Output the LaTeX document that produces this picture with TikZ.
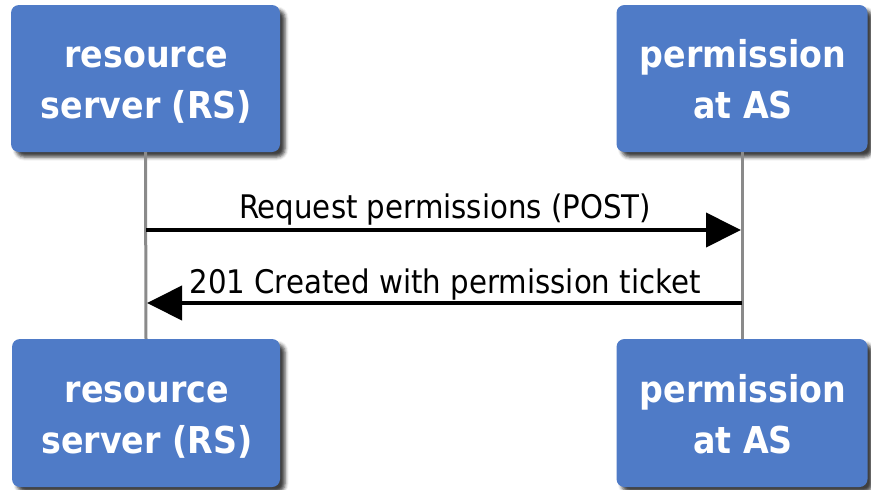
\documentclass[tikz,border=0pt]{standalone}
\usepackage{fontspec}
\setmainfont{DejaVu Sans Condensed}
\usetikzlibrary{shadows.blur,arrows.meta}
\definecolor{boxblue}{RGB}{79,123,199}
\definecolor{lifegray}{RGB}{138,138,138}
\begin{document}
\begin{tikzpicture}[x=1pt,y=-1pt,
  actor/.style={fill=boxblue, rounded corners=8pt, inner sep=0pt,
    blur shadow={shadow xshift=5pt, shadow yshift=-5pt,
      shadow blur radius=3.5pt, shadow opacity=75}},
  actortext/.style={text=white, align=center,
    font=\fontsize{37}{51}\selectfont\bfseries},
  life/.style={draw=lifegray, line width=3pt},
  msg/.style={draw=black, line width=4pt,
    -{Triangle[length=35pt, width=34pt]}},
  msglabel/.style={font=\fontsize{32.5}{38}\selectfont, anchor=base}]
\useasboundingbox (0,0) rectangle (871,490);

% participant boxes, top row and bottom row
\node[actor, minimum width=269pt, minimum height=147pt] (rsTop) at (145.5,78.5) {};
\node[actor, minimum width=251pt, minimum height=147pt] (asTop) at (742,78.5) {};
\node[actor, minimum width=268pt, minimum height=148pt] (rsBot) at (146,413) {};
\node[actor, minimum width=251pt, minimum height=148pt] (asBot) at (742,413) {};

% lifelines
\draw[life] (rsTop.south) -- (rsBot.north);
\draw[life] (asTop.south) -- (asBot.north);

% box captions
\foreach \b in {rsTop, rsBot}
  \node[actortext] (\b Text) at ([shift={(1,7)}]\b.center)
    {resource\\server (RS)};
\foreach \b in {asTop, asBot}
  \node[actortext] (\b Text) at ([shift={(1,1)}]\b.center)
    {permission\\at AS};

% messages
\coordinate (rsReq) at (146,230);
\coordinate (asReq) at (741,230);
\coordinate (asRes) at (742,303);
\coordinate (rsRes) at (147,303);
\draw[msg] (rsReq) -- (asReq);
\draw[msg] (asRes) -- (rsRes);
\node[msglabel] (reqLabel) at (445,218) {Request permissions (POST)};
\node[msglabel] (resLabel) at (445,293) {201 Created with permission ticket};
\end{tikzpicture}
\end{document}
